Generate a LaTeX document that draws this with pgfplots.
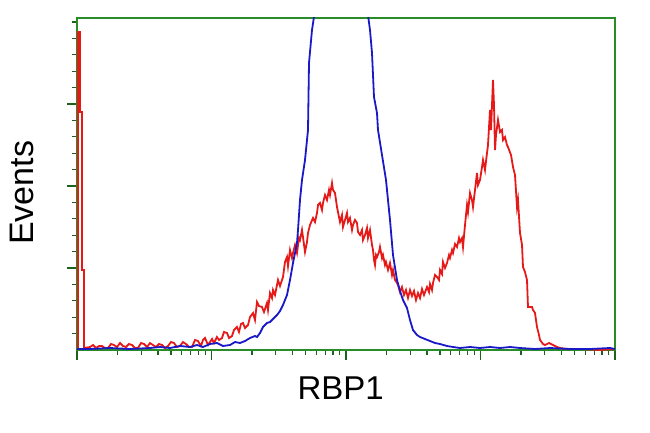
\documentclass[border=0pt]{standalone}
\usepackage{pgfplots}
\pgfplotsset{compat=1.18}
\usepackage{fontspec}
\setmainfont{Liberation Sans}
\definecolor{frame}{RGB}{40,140,40}
\definecolor{redl}{RGB}{230,25,25}
\definecolor{bluel}{RGB}{25,25,200}
\begin{document}
\begin{tikzpicture}
\useasboundingbox (0,0) rectangle (650pt,432pt);
\begin{axis}[
  at={(77pt,82pt)}, anchor=south west,
  scale only axis, width=538pt, height=332pt,
  xmin=0, xmax=538, ymin=0, ymax=332,
  axis line style={frame, line width=1.6pt},
  every tick/.style={frame!70!black, line width=1.3pt},
  tick align=outside,
  xtick pos=bottom, ytick pos=left,
  major tick length=10pt, minor tick length=5pt,
  xtick={0,134.5,269,403.5,538},
  minor xtick={40.5,64.2,81.0,94.0,104.7,113.7,121.5,128.3,
    175.0,198.7,215.5,228.5,239.2,248.2,256.0,262.8,
    309.5,333.2,350.0,363.0,373.7,382.7,390.5,397.3,
    444.0,467.7,484.5,497.5,508.2,517.2,525.0,531.8},
  ytick={82,164,246},
  minor ytick={16.4,32.8,49.2,65.6,98.4,114.8,131.2,147.6,180.4,196.8,213.2,229.6,262.4,278.8,295.2,311.6,328},
  xticklabels={}, yticklabels={},
  xlabel={RBP1}, ylabel={Events},
  xlabel style={at={(axis description cs:0.49,-0.1500)}, anchor=base, font=\fontsize{33}{38}\selectfont},
  ylabel style={at={(axis description cs:-0.0800,0.473)}, anchor=base, rotate=0, font=\fontsize{34}{38}\selectfont},
  clip=true,
]
\addplot[redl, line width=1.8pt] coordinates {
(0,1)(1,1)(1,318)(3,318)(3,238)(5,238)(5,80)(7,80)(7,2)
(13,3)(16,5)(19,2)(22,4)(25,4)(28,2)(31,2)(34,6)(37,5)(40,3)(43,7)(46,4)(49,3)(52,6)(55,5)(58,2)(61,2)(64,7)(67,6)(70,3)(73,7)(76,5)(79,3)(82,6)(85,5)(88,2)(91,4)(94,8)(97,7)(100,3)(103,4)(106,8)(109,6)(112,3)(115,3)(118,10)(121,9)(124,4)(126,10)(128,12)(131,5)(133,8)(135,11)(137,7)(140,13)(142,10)(145,12)(147,18)(150,17)(152,12)(155,14)(157,20)(160,23)(162,18)(164,26)(166,27)(168,22)(171,25)(173,33)(176,37)(178,30)(180,48)(182,44)(185,43)(187,38)
(190,47)(191,40)(193,57)(195,52)(196,60)(198,55)(201,70)(203,64)(206,73)(208,88)(210,93)(211,84)(213,100)(215,92)(216,97)(218,105)(220,97)(222,112)(223,110)(225,120)(228,98)(230,108)(231,117)(233,125)(236,132)(238,128)(240,137)(241,145)(243,147)(245,140)(246,147)(248,155)(250,150)(252,160)(253,155)(255,167)(256,160)(258,157)(259,150)(260,143)(262,133)(263,128)(265,135)(266,123)(268,130)(270,137)(271,128)(273,132)(275,120)(276,125)(278,130)(280,127)(281,118)(283,115)(285,120)(286,110)(288,115)(290,122)(291,112)(293,120)(295,105)(296,100)(297,90)(298,85)(299,95)
(300,93)(302,98)(303,103)(305,92)(306,95)(308,85)(309,88)(311,80)(313,87)(315,75)(316,80)(318,70)(320,67)(321,65)(323,58)(325,63)(327,55)(329,60)(331,52)(333,60)(335,54)(337,59)(339,50)(341,57)(343,52)(345,61)(347,55)(350,63)(352,58)(353,66)(355,60)(356,67)(358,75)(360,73)(362,70)(363,80)(365,76)(366,88)(368,82)(370,87)(372,95)(373,92)(375,100)(376,97)(378,106)(380,103)(382,112)(383,108)(385,112)(386,103)(388,125)(390,145)(391,138)(393,157)(395,150)(396,143)(398,160)(400,177)(401,165)(403,170)(405,183)(406,190)(408,180)(410,197)(411,205)(413,240)(414,220)(416,270)(417,245)(418,200)(419,215)(421,230)(423,218)(425,220)(426,210)(428,213)(430,205)(431,203)(434,195)(436,183)(438,175)(440,143)(441,150)(443,117)(445,105)(446,83)(448,78)(450,70)(451,43)(453,43)(455,43)(456,40)(458,37)(460,23)(462,15)(463,10)(466,6)(468,5)(472,7)(476,5)(480,3)(483,2)(490,1)(503,1)(523,0)(538,1)
};
\addplot[bluel, line width=1.8pt] coordinates {
(0,1)(13,1)(33,2)(53,1)(73,2)(83,3)(93,2)(103,4)(113,3)(120,5)(126,3)(133,6)(140,7)(146,4)(153,5)(158,8)(163,7)(168,9)(173,12)(178,14)(180,13)(183,17)(186,23)(190,27)(193,28)(197,32)(200,35)(203,39)(206,45)(210,55)(213,70)(216,87)(218,97)(220,107)(221,120)(223,150)(225,170)(228,190)(231,220)(232,287)(235,320)(238,340)(241,370)(288,370)(291,335)(293,320)(295,297)(297,253)(300,237)(301,220)(305,195)(309,170)(311,150)(313,130)(316,95)(320,70)(323,59)(326,50)(330,42)(333,30)(336,20)(340,15)(343,13)(348,11)(353,9)(358,7)(363,6)(370,4)(376,3)(383,2)(393,3)(403,2)(413,3)(423,2)(433,3)(443,2)(458,1)(473,2)(493,1)(513,1)(533,2)(538,1)
};
\end{axis}
\end{tikzpicture}
\end{document}
